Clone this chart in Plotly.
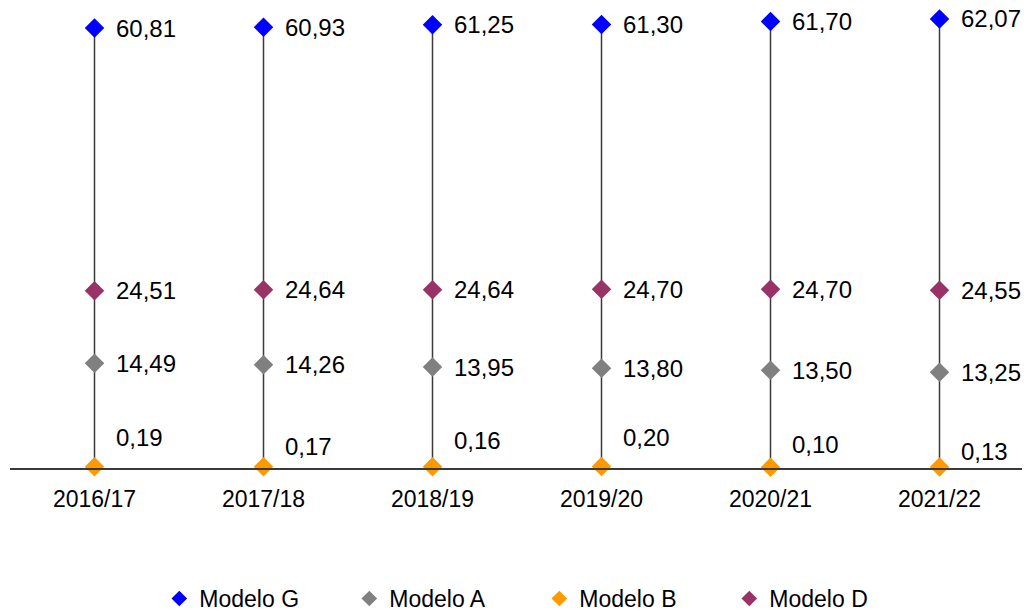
import plotly.graph_objects as go

categories = ["2016/17", "2017/18", "2018/19", "2019/20", "2020/21", "2021/22"]
modelo_g = [60.81, 60.93, 61.25, 61.30, 61.70, 62.07]
modelo_a = [14.49, 14.26, 13.95, 13.80, 13.50, 13.25]
modelo_b = [0.19, 0.17, 0.16, 0.20, 0.10, 0.13]
modelo_d = [24.51, 24.64, 24.64, 24.70, 24.70, 24.55]

series = [
    ("Modelo G", modelo_g, "#0000FF"),
    ("Modelo A", modelo_a, "#808080"),
    ("Modelo B", modelo_b, "#FF9900"),
    ("Modelo D", modelo_d, "#993366"),
]

FONT = "Liberation Sans, Arial, sans-serif"
fig = go.Figure()

# high-low lines from 0 to the top value per category
lx, ly = [], []
for c, g, a, b, d in zip(categories, modelo_g, modelo_a, modelo_b, modelo_d):
    lo = min(g, a, b, d)
    hi = max(g, a, b, d)
    lx += [c, c, None]
    ly += [min(0, lo), hi, None]
fig.add_trace(go.Scatter(x=lx, y=ly, mode="lines", line=dict(color="#3a3a3a", width=1.5),
                         showlegend=False, hoverinfo="skip", cliponaxis=False))

for name, vals, color in series:
    fig.add_trace(go.Scatter(x=categories, y=vals, mode="markers", name=name,
                             marker=dict(symbol="diamond", size=15, color=color),
                             cliponaxis=False))

def fmt(v):
    return f"{v:.2f}".replace(".", ",")

b_yshift = [29, 20, 26, 29, 23, 16]
for name, vals, color in series:
    for i, (c, v) in enumerate(zip(categories, vals)):
        ys = b_yshift[i] if name == "Modelo B" else 0
        fig.add_annotation(x=c, y=v, text=fmt(v), showarrow=False, xanchor="left",
                           yanchor="middle", xshift=19, yshift=ys,
                           font=dict(family=FONT, size=24, color="#000000"))

fig.update_layout(
    width=1030, height=612,
    margin=dict(l=2, r=14, t=2, b=152, autoexpand=False),
    paper_bgcolor="white", plot_bgcolor="white",
    font=dict(family=FONT, size=23, color="#000000"),
    xaxis=dict(type="category", range=[-0.5, 5.5], showline=True, linecolor="#3a3a3a",
               linewidth=1.5, showgrid=False, ticks="", tickfont=dict(size=23),
               ticklabelstandoff=10, automargin=False),
    yaxis=dict(range=[0, 63.3], visible=False, showgrid=False, zeroline=False),
    showlegend=True,
    legend=dict(orientation="h", x=0.522, xanchor="center", y=-0.007, yref="container",
                yanchor="bottom", font=dict(size=23), entrywidth=145,
                entrywidthmode="pixels", itemsizing="constant"),
)

fig.write_html("out.html")
